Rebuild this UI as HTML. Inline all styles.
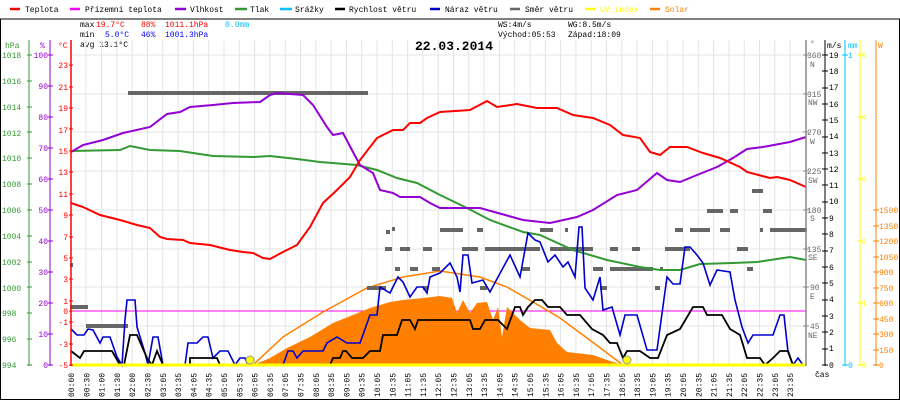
<!DOCTYPE html>
<html><head><meta charset="utf-8"><style>
body{margin:0;background:#fff}
svg{display:block}
text{font-family:"Liberation Mono",monospace;font-size:8px}
</style></head><body>
<svg width="900" height="400" viewBox="0 0 900 400" xmlns="http://www.w3.org/2000/svg">
<rect x="0.5" y="19" width="899" height="380.5" fill="#fff" stroke="#000"/>
<!-- legend -->
<g stroke-width="2.5">
<line x1="10" y1="9" x2="20" y2="9" stroke="#f00"/><line x1="70" y1="9" x2="80" y2="9" stroke="#f0f"/>
<line x1="175" y1="9" x2="186" y2="9" stroke="#9400d3"/><line x1="235" y1="9" x2="247" y2="9" stroke="#339933"/>
<line x1="280" y1="9" x2="292" y2="9" stroke="#00bfff"/><line x1="335" y1="9" x2="345" y2="9" stroke="#000"/>
<line x1="430" y1="9" x2="440" y2="9" stroke="#0000cd"/><line x1="510" y1="9" x2="520" y2="9" stroke="#666"/>
<line x1="585" y1="9" x2="595" y2="9" stroke="#ff0"/><line x1="650" y1="9" x2="660" y2="9" stroke="#ff8000"/>
</g>
<g fill="#000">
<text x="25" y="12">Teplota</text><text x="85" y="12">Přízemní teplota</text><text x="190" y="12">Vlhkost</text>
<text x="250" y="12">Tlak</text><text x="295" y="12">Srážky</text><text x="349" y="12">Rychlost větru</text>
<text x="445" y="12">Náraz větru</text><text x="525" y="12">Směr větru</text>
<text x="600" y="12" fill="#ff0">UV index</text><text x="665" y="12" fill="#ff8000">Solar</text>
</g>
<!-- info -->
<text x="80" y="27">max</text><text x="96" y="27" fill="#f00">19.7°C</text><text x="141" y="27" fill="#f00">88%</text><text x="165" y="27" fill="#f00">1011.1hPa</text><text x="225" y="27" fill="#00bfff">0.0mm</text>
<text x="80" y="37">min</text><text x="105" y="37" fill="#00f">5.0°C</text><text x="141" y="37" fill="#00f">46%</text><text x="165" y="37" fill="#00f">1001.3hPa</text>
<text x="80" y="47">avg 13.1°C</text>
<text x="498" y="27">WS:4m/s</text><text x="568" y="27">WG:8.5m/s</text>
<text x="498" y="37">Východ:05:53</text><text x="568" y="37">Západ:18:09</text>
<text x="415" y="50" style="font-size:13px;font-weight:bold">22.03.2014</text>
<!-- grid -->
<g stroke="#e4e4e4" stroke-width="1">
<path d="M86,40V365M101.6,40V365M116.9,40V365M132.2,40V365M147.5,40V365M162.8,40V365M178.1,40V365M193.4,40V365M208.7,40V365M224,40V365M239.3,40V365M254.6,40V365M269.9,40V365M285.2,40V365M300.5,40V365M315.8,40V365M331.1,40V365M346.4,40V365M361.7,40V365M377,40V365M392.3,40V365M407.6,40V365M422.9,40V365M438.2,40V365M453.5,40V365M468.8,40V365M484.1,40V365M499.4,40V365M514.7,40V365M530,40V365M545.3,40V365M560.6,40V365M575.9,40V365M591.2,40V365M606.5,40V365M621.8,40V365M637.1,40V365M652.4,40V365M667.7,40V365M683,40V365M698.3,40V365M713.6,40V365M728.9,40V365M744.2,40V365M759.5,40V365M774.8,40V365M790.1,40V365"/>
<path d="M71,55H806M71,94H806M71,132H806M71,171H806M71,210H806M71,249H806M71,287H806M71,326H806"/>
</g>
<line x1="71" y1="311" x2="806" y2="311" stroke="#f0f" stroke-width="1"/>
<!-- solar fill -->
<polygon fill="#ff8000" points="253,365 270,358 287,348 310,337 333,323 353,315 370,308 390,302 403,300 423,298 440,296 452,298 457,313 463,300 470,313 477,303 487,302 493,320 498,307 502,337 507,307 520,320 530,328 550,330 557,343 567,352 593,355 607,360 623,365"/>
<polyline fill="none" stroke="#ff8000" stroke-width="1.5" points="253,365 283,337 323,312 367,288 403,277 440,271 480,277 507,287 533,302 560,318 587,338 607,353 623,365"/>
<!-- direction -->
<g stroke="#666" stroke-width="4" fill="none">
<path d="M128,93H368M86,326H128M70,307H88M70,265H73"/>
<path d="M440,230H463M477,230H483M540,230H553M565,230H568M675,230H683M690,230H710M720,230H730M760,230H763M770,230H807M392,229H395M386,232H390"/>
<path d="M462,249H478M485,249H540M550,249H593M610,249H618M632,249H640M665,249H690M737,249H748M385,249H392M400,249H410M423,249H432"/>
<path d="M522,269H530M593,269H603M610,269H653M660,269H663M747,269H753M395,269H400M410,269H418M432,269H440"/>
<path d="M480,288H487M600,288H607M655,288H660M367,288H386M423,288H428"/>
<path d="M707,211H723M730,211H738M763,211H772M752,191H763"/>
</g>
<!-- pressure -->
<polyline fill="none" stroke="#339933" stroke-width="2" points="71,151 120,150 130,146 150,150 180,151 193,153 213,156 253,157 270,156 297,159 320,162 357,165 377,170 397,178 417,183 440,195 467,208 490,220 523,232 540,235 573,250 607,260 640,267 660,270 680,270 700,264 733,263 757,262 790,257 806,260"/>
<!-- humidity -->
<polyline fill="none" stroke="#9400d3" stroke-width="2" points="71,152 83,145 103,140 123,133 150,127 167,114 180,112 190,107 213,105 233,103 260,102 270,95 277,93 303,95 313,105 327,127 333,135 343,133 353,152 360,165 373,173 380,190 393,193 400,197 420,197 430,203 440,208 480,208 523,220 550,223 577,217 593,210 617,195 637,190 657,173 667,180 680,182 697,175 717,167 733,158 747,149 763,147 790,142 806,137"/>
<!-- temperature -->
<polyline fill="none" stroke="#f00" stroke-width="2" points="71,203 83,207 100,215 120,220 137,225 150,228 160,237 167,239 183,240 190,243 210,245 230,250 243,252 253,253 263,258 270,259 283,252 297,245 310,227 323,203 337,190 350,177 360,160 377,138 393,130 403,130 410,123 420,123 427,118 440,112 470,110 487,101 497,107 517,104 537,108 557,108 573,115 593,118 610,125 623,135 640,138 650,152 660,155 670,147 687,147 703,153 720,158 740,167 747,172 770,178 777,177 790,180 806,187"/>
<!-- gust -->
<polyline fill="none" stroke="#0000cd" stroke-width="1.6" points="71,329 77,335 84,335 88,329 93,330 100,343 103,337 110,337 117,357 122,365 125,320 127,300 135,300 137,327 145,353 148,365 153,337 158,337 163,365 185,365 188,343 197,343 203,337 208,337 213,358 220,351 228,351 235,365 240,358 245,358 248,365 283,365 288,351 293,351 297,358 303,351 323,351 327,343 337,337 347,343 360,343 370,315 377,315 380,287 390,293 398,277 403,282 410,297 417,287 423,287 427,293 430,277 440,273 450,263 457,277 460,292 463,255 468,255 472,283 483,280 490,292 498,277 510,255 520,277 528,233 535,240 540,242 548,262 555,255 563,267 568,262 575,277 579,227 582,227 585,288 593,300 600,277 603,310 612,307 620,335 625,315 637,315 647,350 657,350 667,277 673,284 680,284 685,247 690,247 697,255 703,263 710,285 717,270 730,272 735,300 742,327 748,343 753,335 773,335 780,315 784,315 788,352 793,365 798,358 803,365 806,365"/>
<!-- wind speed -->
<polyline fill="none" stroke="#000" stroke-width="1.8" points="71,351 80,358 84,351 112,351 120,365 124,365 130,335 137,335 147,358 152,365 157,351 163,365 190,365 190,358 217,358 220,365 330,365 333,358 340,358 343,351 346,351 352,358 363,358 370,351 380,351 383,335 397,335 402,320 410,320 415,329 418,320 470,320 473,329 480,329 485,320 498,320 507,329 515,307 520,307 523,315 528,307 535,300 542,300 548,307 560,307 567,315 580,315 592,329 603,335 610,343 617,343 623,358 627,351 640,351 650,358 658,358 667,335 680,329 693,307 703,307 707,315 722,315 730,329 740,335 747,358 760,358 765,365 773,358 780,351 788,351 793,365 806,365"/>
<line x1="71" y1="365" x2="806" y2="365" stroke="#ff0" stroke-width="3"/>
<circle cx="250" cy="360" r="4" fill="#ff0" stroke="#999"/>
<circle cx="627" cy="360" r="4" fill="#ff0" stroke="#999"/>
<!-- left axes -->
<line x1="29" y1="40" x2="29" y2="366" stroke="#339933"/>
<line x1="50" y1="40" x2="50" y2="366" stroke="#9400d3"/>
<line x1="71" y1="40" x2="71" y2="366" stroke="#f00" stroke-width="1.5"/>
<text x="5" y="48" fill="#339933">hPa</text><text x="40" y="48" fill="#9400d3">%</text><text x="58" y="48" fill="#f00">°C</text>
<g fill="#339933">
<text x="2" y="58">1018</text><text x="2" y="84">1016</text><text x="2" y="110">1014</text><text x="2" y="136">1012</text><text x="2" y="161">1010</text><text x="2" y="187">1008</text><text x="2" y="213">1006</text><text x="2" y="239">1004</text><text x="2" y="265">1002</text><text x="2" y="291">1000</text><text x="2" y="316">998</text><text x="2" y="342">996</text><text x="2" y="368">994</text>
</g>
<path stroke="#339933" d="M27,55H32M27,81H32M27,107H32M27,132H32M27,158H32M27,184H32M27,210H32M27,236H32M27,262H32M27,287H32M27,313H32M27,339H32M27,365H32"/>
<g fill="#9400d3" text-anchor="end">
<text x="48" y="58">100</text><text x="48" y="89">90</text><text x="48" y="120">80</text><text x="48" y="151">70</text><text x="48" y="182">60</text><text x="48" y="213">50</text><text x="48" y="244">40</text><text x="48" y="275">30</text><text x="48" y="306">20</text><text x="48" y="337">10</text><text x="48" y="368">0</text>
</g>
<path stroke="#9400d3" d="M48,55H53M48,86H53M48,117H53M48,148H53M48,179H53M48,210H53M48,241H53M48,272H53M48,303H53M48,334H53M48,365H53"/>
<g fill="#f00" text-anchor="end">
<text x="68" y="68">23</text><text x="68" y="90">21</text><text x="68" y="111">19</text><text x="68" y="133">17</text><text x="68" y="154">15</text><text x="68" y="175">13</text><text x="68" y="197">11</text><text x="68" y="218">9</text><text x="68" y="240">7</text><text x="68" y="261">5</text><text x="68" y="282">3</text><text x="68" y="304">1</text><text x="68" y="314">0</text><text x="68" y="325">-1</text><text x="68" y="347">-3</text><text x="68" y="368">-5</text>
</g>
<path stroke="#f00" d="M69,65H73M69,87H73M69,108H73M69,129H73M69,151H73M69,172H73M69,194H73M69,215H73M69,237H73M69,258H73M69,279H73M69,301H73M69,311H73M69,322H73M69,344H73M69,365H73"/>
<!-- right axes -->
<line x1="806" y1="40" x2="806" y2="366" stroke="#888" stroke-width="1.5"/>
<line x1="825" y1="40" x2="825" y2="366" stroke="#000"/>
<line x1="845" y1="40" x2="845" y2="366" stroke="#00bfff"/>
<line x1="860" y1="40" x2="860" y2="366" stroke="#ff0"/>
<line x1="876" y1="40" x2="876" y2="366" stroke="#ff8000"/>
<text x="810" y="46" fill="#666">°</text><text x="827" y="48">m/s</text><text x="848" y="48" fill="#00bfff">mm</text><text x="878" y="48" fill="#ff8000">W</text>
<g fill="#666">
<text x="807" y="58">360</text><text x="810" y="67">N</text><text x="807" y="97">315</text><text x="808" y="105">NW</text><text x="807" y="135">270</text><text x="810" y="144">W</text><text x="807" y="174">225</text><text x="808" y="183">SW</text><text x="807" y="213">180</text><text x="810" y="221">S</text><text x="807" y="252">135</text><text x="808" y="260">SE</text><text x="810" y="290">90</text><text x="810" y="299">E</text><text x="810" y="329">45</text><text x="808" y="338">NE</text>
</g>
<path stroke="#888" d="M803,55H809M803,94H809M803,132H809M803,171H809M803,210H809M803,249H809M803,287H809M803,326H809"/>
<g fill="#000">
<text x="829" y="58">19</text><text x="829" y="74">18</text><text x="829" y="90">17</text><text x="829" y="107">16</text><text x="829" y="123">15</text><text x="829" y="139">14</text><text x="829" y="156">13</text><text x="829" y="172">12</text><text x="829" y="188">11</text><text x="829" y="204">10</text><text x="829" y="221">9</text><text x="829" y="237">8</text><text x="829" y="253">7</text><text x="829" y="270">6</text><text x="829" y="286">5</text><text x="829" y="302">4</text><text x="829" y="319">3</text><text x="829" y="335">2</text><text x="829" y="351">1</text><text x="829" y="368">0</text>
</g>
<path stroke="#000" d="M822,55H828M822,71H828M822,88H828M822,104H828M822,120H828M822,137H828M822,153H828M822,169H828M822,185H828M822,202H828M822,218H828M822,234H828M822,251H828M822,267H828M822,283H828M822,300H828M822,316H828M822,332H828M822,349H828M822,365H828"/>
<text x="848" y="58" fill="#00bfff">1</text><text x="848" y="368" fill="#00bfff">0</text>
<path stroke="#00bfff" d="M842,55H848M842,365H848"/>
<g fill="#ff0"><text x="862" y="58">5</text><text x="862" y="120">4</text><text x="862" y="182">3</text><text x="862" y="244">2</text><text x="862" y="306">1</text><text x="862" y="368">0</text></g>
<path stroke="#ff0" d="M857,55H863M857,117H863M857,179H863M857,241H863M857,303H863M857,365H863"/>
<g fill="#ff8000">
<text x="879" y="213">1500</text><text x="879" y="229">1350</text><text x="879" y="244">1200</text><text x="879" y="260">1050</text><text x="879" y="275">900</text><text x="879" y="291">750</text><text x="879" y="306">600</text><text x="879" y="322">450</text><text x="879" y="337">300</text><text x="879" y="353">150</text><text x="879" y="368">0</text>
</g>
<path stroke="#ff8000" d="M873,210H879M873,226H879M873,241H879M873,257H879M873,272H879M873,288H879M873,303H879M873,319H879M873,334H879M873,350H879M873,365H879"/>
<text x="815" y="377">čas</text>
<!-- x labels -->
<g fill="#000" style="font-size:8px">
<text transform="translate(74,397) rotate(-90)">00:00</text>
<text transform="translate(89.3,397) rotate(-90)">00:30</text>
<text transform="translate(104.6,397) rotate(-90)">01:00</text>
<text transform="translate(119.9,397) rotate(-90)">01:30</text>
<text transform="translate(135.2,397) rotate(-90)">02:00</text>
<text transform="translate(150.5,397) rotate(-90)">02:30</text>
<text transform="translate(165.8,397) rotate(-90)">03:05</text>
<text transform="translate(181.1,397) rotate(-90)">03:35</text>
<text transform="translate(196.4,397) rotate(-90)">04:05</text>
<text transform="translate(211.7,397) rotate(-90)">04:35</text>
<text transform="translate(227,397) rotate(-90)">05:05</text>
<text transform="translate(242.3,397) rotate(-90)">05:35</text>
<text transform="translate(257.6,397) rotate(-90)">06:05</text>
<text transform="translate(272.9,397) rotate(-90)">06:35</text>
<text transform="translate(288.2,397) rotate(-90)">07:05</text>
<text transform="translate(303.5,397) rotate(-90)">07:35</text>
<text transform="translate(318.8,397) rotate(-90)">08:05</text>
<text transform="translate(334.1,397) rotate(-90)">08:35</text>
<text transform="translate(349.4,397) rotate(-90)">09:05</text>
<text transform="translate(364.7,397) rotate(-90)">09:35</text>
<text transform="translate(380,397) rotate(-90)">10:05</text>
<text transform="translate(395.3,397) rotate(-90)">10:35</text>
<text transform="translate(410.6,397) rotate(-90)">11:05</text>
<text transform="translate(425.9,397) rotate(-90)">11:35</text>
<text transform="translate(441.2,397) rotate(-90)">12:05</text>
<text transform="translate(456.5,397) rotate(-90)">12:35</text>
<text transform="translate(471.8,397) rotate(-90)">13:05</text>
<text transform="translate(487.1,397) rotate(-90)">13:35</text>
<text transform="translate(502.4,397) rotate(-90)">14:05</text>
<text transform="translate(517.7,397) rotate(-90)">14:35</text>
<text transform="translate(533,397) rotate(-90)">15:05</text>
<text transform="translate(548.3,397) rotate(-90)">15:35</text>
<text transform="translate(563.6,397) rotate(-90)">16:05</text>
<text transform="translate(578.9,397) rotate(-90)">16:35</text>
<text transform="translate(594.2,397) rotate(-90)">17:05</text>
<text transform="translate(609.5,397) rotate(-90)">17:35</text>
<text transform="translate(624.8,397) rotate(-90)">18:05</text>
<text transform="translate(640.1,397) rotate(-90)">18:35</text>
<text transform="translate(655.4,397) rotate(-90)">19:05</text>
<text transform="translate(670.7,397) rotate(-90)">19:35</text>
<text transform="translate(686,397) rotate(-90)">20:05</text>
<text transform="translate(701.3,397) rotate(-90)">20:35</text>
<text transform="translate(716.6,397) rotate(-90)">21:05</text>
<text transform="translate(731.9,397) rotate(-90)">21:35</text>
<text transform="translate(747.2,397) rotate(-90)">22:05</text>
<text transform="translate(762.5,397) rotate(-90)">22:35</text>
<text transform="translate(777.8,397) rotate(-90)">23:05</text>
<text transform="translate(793.1,397) rotate(-90)">23:35</text>
</g>
</svg>
</body></html>
